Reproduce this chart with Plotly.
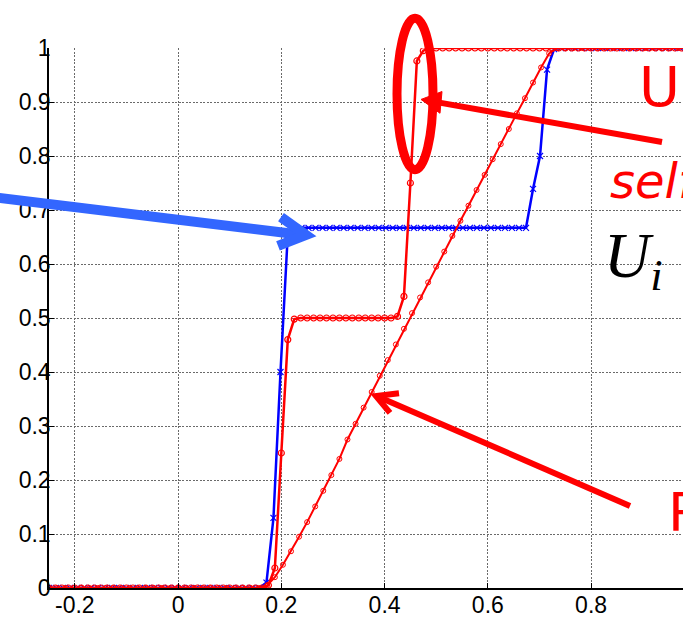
import plotly.graph_objects as go

# ---------------- data ----------------
# blue series (x markers) on its own grid
x_blue_start, x_blue_step, n_blue = -0.25, 1.25 / 92, 93
u_blue = ([0.0] * 31 + [0.01, 0.13, 0.40, 0.645] + [0.667] * 34 +
          [0.739, 0.80, 0.96, 0.998] + [1.0] * 20)

# red step series (circles)
x_step_start, x_step_step, n_step = -0.25, 0.0125, 101
u_step = ([0.0] * 34 + [0.005, 0.037, 0.25, 0.46, 0.498] + [0.5] * 15 +
          [0.503, 0.54, 0.75, 0.976, 0.995] + [1.0] * 42)

# red ramp series (small circles)
x_ramp_start, x_ramp_step, n_ramp = -0.25, 0.015625, 81
u_ramp = ([0.0] * 27 +
          [0.004, 0.02, 0.043, 0.068, 0.095, 0.122, 0.151, 0.18, 0.209,
           0.239, 0.275, 0.304, 0.334, 0.363, 0.393, 0.422, 0.451, 0.48,
           0.509, 0.538, 0.566, 0.595, 0.623, 0.652, 0.680, 0.708, 0.737,
           0.765, 0.794, 0.822, 0.850, 0.879, 0.907, 0.936, 0.964, 0.99,
           1.0] + [1.0] * 17)

x_ticks = [-0.2, 0, 0.2, 0.4, 0.6, 0.8]
x_tick_text = ["-0.2", "0", "0.2", "0.4", "0.6", "0.8"]
y_ticks = [0, 0.1, 0.2, 0.3, 0.4, 0.5, 0.6, 0.7, 0.8, 0.9, 1]
y_tick_text = ["0", "0.1", "0.2", "0.3", "0.4", "0.5", "0.6", "0.7", "0.8", "0.9", "1"]

x_blue = [x_blue_start + i * x_blue_step for i in range(n_blue)]
x_step = [x_step_start + i * x_step_step for i in range(n_step)]
x_ramp = [x_ramp_start + i * x_ramp_step for i in range(n_ramp)]

# ---------------- layout geometry ----------------
W, H = 683, 618
L, R, T, B = 49, 683, 48, 594


def px(x):
    return (x - L) / (R - L)


def py(y):
    return (B - y) / (B - T)


fig = go.Figure()
fig.add_trace(go.Scatter(x=x_blue, y=u_blue, mode="lines+markers",
                         line=dict(color="#0000ff", width=2.5),
                         marker=dict(symbol="x-thin-open", size=6,
                                     line=dict(color="#0000ff", width=1.2)),
                         showlegend=False))
fig.add_trace(go.Scatter(x=x_ramp, y=u_ramp, mode="lines+markers",
                         line=dict(color="#ff0000", width=2),
                         marker=dict(symbol="circle-open", size=5,
                                     line=dict(color="rgba(255,60,60,0.8)", width=1)),
                         showlegend=False))
fig.add_trace(go.Scatter(x=x_step, y=u_step, mode="lines+markers",
                         line=dict(color="#ff0000", width=2.5),
                         marker=dict(symbol="circle-open", size=6,
                                     line=dict(color="rgba(255,60,60,0.8)", width=1.2)),
                         showlegend=False))

shapes = []
# blue arrow
blue_arrow = "rgb(51,102,255)"
shapes.append(dict(type="line", xref="paper", yref="paper",
                   x0=px(-5), y0=py(199), x1=px(303), y1=py(237),
                   line=dict(color=blue_arrow, width=10)))
shapes.append(dict(type="path", xref="paper", yref="paper",
                   path=f"M {px(281)} {py(219)} L {px(306)} {py(237)} L {px(278)} {py(248)}",
                   line=dict(color=blue_arrow, width=10)))
# red ellipse
shapes.append(dict(type="circle", xref="paper", yref="paper",
                   x0=px(397), x1=px(433), y0=py(18), y1=py(171),
                   line=dict(color="#ff0000", width=9)))
# red arrow 1 (filled head)
shapes.append(dict(type="line", xref="paper", yref="paper",
                   x0=px(662), y0=py(143), x1=px(438), y1=py(103),
                   line=dict(color="#ff0000", width=6)))
shapes.append(dict(type="path", xref="paper", yref="paper",
                   path=f"M {px(421)} {py(100)} L {px(442)} {py(92)} L {px(440)} {py(114)} Z",
                   fillcolor="#ff0000", line=dict(color="#ff0000", width=1)))
# red arrow 2 (open head)
shapes.append(dict(type="line", xref="paper", yref="paper",
                   x0=px(630), y0=py(511), x1=px(377), y1=py(400),
                   line=dict(color="#ff0000", width=6)))
shapes.append(dict(type="path", xref="paper", yref="paper",
                   path=f"M {px(399)} {py(397)} L {px(376)} {py(400)} L {px(390)} {py(417)}",
                   line=dict(color="#ff0000", width=6)))

annotations = [
    dict(text="Un", xref="paper", yref="paper", x=px(637), y=py(87),
         xanchor="left", yanchor="middle", showarrow=False,
         font=dict(family="DejaVu Sans", size=56, color="#ff0000")),
    dict(text="<i>self</i>", xref="paper", yref="paper", x=px(608), y=py(182),
         xanchor="left", yanchor="middle", showarrow=False,
         font=dict(family="DejaVu Sans", size=48, color="#ff0000")),
    dict(text="<i>U</i><sub><i>i</i></sub>", xref="paper", yref="paper",
         x=px(602), y=py(262), xanchor="left", yanchor="middle", showarrow=False,
         font=dict(family="Liberation Serif", size=64, color="#000000")),
    dict(text="R", xref="paper", yref="paper", x=px(666), y=py(518),
         xanchor="left", yanchor="middle", showarrow=False,
         font=dict(family="DejaVu Sans", size=54, color="#ff0000")),
]

grid = dict(showgrid=True, gridcolor="#6a6a6a", gridwidth=1, griddash="2px,1.5px",
            zeroline=False, showline=True, linecolor="#000000", linewidth=1.5,
            ticks="inside", ticklen=5, tickcolor="#000000",
            tickfont=dict(family="Liberation Sans", size=23, color="#000000"))

fig.update_layout(
    width=W, height=H,
    margin=dict(l=L, r=W - R, t=T, b=H - B, pad=0),
    paper_bgcolor="white", plot_bgcolor="white",
    font=dict(family="Liberation Sans", size=23, color="#000000"),
    shapes=shapes, annotations=annotations,
    xaxis=dict(range=[-0.25, 0.978], tickvals=x_ticks, ticktext=x_tick_text,
               ticklabelstandoff=-4, **grid),
    yaxis=dict(range=[0, 1], tickvals=y_ticks, ticktext=y_tick_text,
               ticklabelstandoff=-8, **grid),
)

fig.write_html("out.html")
